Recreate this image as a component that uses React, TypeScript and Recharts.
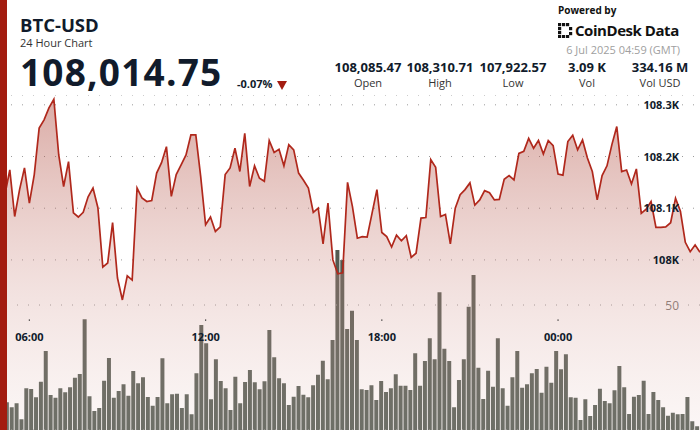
import React from "react";
import { Area, Bar, CartesianGrid, ComposedChart, ReferenceLine, XAxis, YAxis } from "recharts";

// 10-minute candles, 05:00 -> 04:50 (GMT)
const START_MIN = 5 * 60;
const STEP_MIN = 10;

const PRICES = [
  108085, 108126, 108174, 108084, 108136, 108178, 108110, 108165, 108255, 108271,
  108294, 108310.71, 108203, 108142, 108190, 108091, 108083, 108092, 108122, 108139,
  108101, 107986, 107994, 108072, 107965, 107922.57, 107969, 107961, 108139, 108120,
  108113, 108115, 108168, 108188, 108219, 108123, 108165, 108184, 108203, 108242,
  108242, 108161, 108068, 108083, 108055, 108064, 108165, 108178, 108216, 108171,
  108245, 108142, 108182, 108158, 108152, 108231, 108208, 108214, 108182, 108223,
  108213, 108168, 108154, 108139, 108092, 108100, 108031, 108110, 108000, 107973,
  107975, 108150, 108103, 108042, 108045, 108044, 108090, 108136, 108053, 108045,
  108025, 108048, 108037, 108047, 108005, 108013, 108081, 108082, 108194, 108179,
  108084, 108088, 108031, 108100, 108126, 108136, 108149, 108106, 108116, 108134,
  108130, 108116, 108117, 108156, 108163, 108155, 108206, 108210, 108235, 108216,
  108231, 108205, 108231, 108221, 108166, 108164, 108229, 108241, 108213, 108232,
  108197, 108171, 108116, 108163, 108182, 108223, 108258, 108171, 108174, 108147,
  108176, 108090, 108098, 108113, 108063, 108063, 108064, 108072, 108119, 108094,
  108034, 108016, 108029, 108014.75,
];

const VOLUMES = [
  12, 11.1, 9.1, 10.7, 4.3, 16.7, 16.4, 13.1, 19.3, 31.6,
  14, 12.9, 16.7, 15.1, 17.1, 20.9, 22.4, 44.3, 13.5, 7.6,
  8.8, 19.7, 28.8, 12.9, 15.6, 18.3, 13.7, 23.6, 18.7, 21.1,
  13.2, 9.7, 13.2, 28.7, 10.7, 14.3, 14.5, 8.8, 14.3, 6.3,
  22.7, 42, 34.7, 12.3, 28.3, 19.6, 16.7, 8, 21.3, 10.7,
  19.2, 24, 19.1, 16.3, 19.5, 40, 29.1, 20.7, 18.7, 10,
  13.3, 17.6, 14.1, 13.1, 17.9, 22.1, 27.7, 20.3, 36, 72,
  68, 40.4, 47.7, 36, 16.3, 16, 17.9, 12, 19.6, 15.2,
  16.7, 22.3, 17.7, 17.7, 16, 30.7, 17.7, 27.6, 36.7, 28.3,
  55.1, 32.5, 27.6, 9.1, 20, 28.3, 49.3, 62, 24.9, 12.4,
  23.7, 17.3, 36.7, 16.7, 9.7, 21.1, 31.6, 16.9, 18.3, 22.7,
  24.4, 14.9, 25.3, 18.9, 31.6, 24.3, 30.3, 13.1, 12.9, 4,
  12.3, 5.6, 10, 16.5, 11.6, 10.7, 15.9, 25.6, 17.1, 6.4,
  13.3, 14, 19.7, 6.4, 15.2, 12, 9.1, 5.7, 6.9, 6.3,
  6.4, 13.2, 3.5, 1.5,
];

const PRICE_TICKS = [108000, 108100, 108200, 108300];
const PRICE_DOMAIN = [107671, 108319];
const VOLUME_TICKS = [50];
const VOLUME_DOMAIN = [0, 134];
const TIME_LABELS = ["06:00", "12:00", "18:00", "00:00"];

const STATS = [
  { value: "108,085.47", label: "Open", cx: 368 },
  { value: "108,310.71", label: "High", cx: 440 },
  { value: "107,922.57", label: "Low", cx: 513 },
  { value: "3.09 K", label: "Vol", cx: 587 },
  { value: "334.16 M", label: "Vol USD", cx: 660 },
];

const RED = "#a31c10";
const INK = "#111b2b";
const FONT = "'Open Sans', 'Noto Sans', sans-serif";
const W = 700;
const H = 335;
const MARGIN = { top: 0, right: 0, bottom: 0, left: 0 };

const pad = (n: number) => String(n).padStart(2, "0");
const hhmm = (i: number) => {
  const m = (START_MIN + i * STEP_MIN) % 1440;
  return `${pad(Math.floor(m / 60))}:${pad(m % 60)}`;
};

const data = PRICES.map((price, i) => ({ t: hhmm(i), price, vol: VOLUMES[i] }));

const fmtK = (v: number) => `${(v / 1000).toFixed(1).replace(/\.0$/, "")}K`;

function TimeTick(props: any) {
  const { x, payload } = props;
  if (!TIME_LABELS.includes(payload.value)) return <g />;
  return (
    <g>
      <rect x={x - 0.6} y={224.5} width={1.2} height={1.2} fill="#222" />
      <text x={x} y={246} textAnchor="middle" fontSize={11} fontWeight={700} fill={INK} fontFamily={FONT}>
        {payload.value}
      </text>
    </g>
  );
}

function PriceTick(props: any) {
  const { y, payload } = props;
  return (
    <text x={679} y={y + 4} textAnchor="end" fontSize={11} fontWeight={700} fill={INK} fontFamily={FONT}>
      {fmtK(payload.value)}
    </text>
  );
}

function VolTick(props: any) {
  const { y, payload } = props;
  return (
    <text x={679} y={y + 4.5} textAnchor="end" fontSize={12} fill="#7d7570" fontFamily={FONT}>
      {payload.value}
    </text>
  );
}

function Logo() {
  const cells = [
    [0, 0], [4, 0], [8, 0], [0, 4], [0, 8], [0, 12], [4, 12], [8, 12], [11, 4], [11, 9],
  ];
  return (
    <svg width={15} height={15} style={{ position: "absolute", left: 558, top: 23 }}>
      {cells.map(([x, y], i) => (
        <rect key={i} x={x} y={y} width={3.2} height={3.2} fill="#111" />
      ))}
    </svg>
  );
}

export default function App() {
  return (
    <div
      style={{
        position: "absolute",
        left: 0,
        top: 0,
        width: 700,
        height: 430,
        overflow: "hidden",
        background: "#fff",
        fontFamily: FONT,
        color: INK,
      }}
    >
      {/* volume bars underneath */}
      <div style={{ position: "absolute", left: 0, top: 95 }}>
        <ComposedChart width={W} height={H} data={data} margin={MARGIN}>
          <XAxis dataKey="t" hide />
          <YAxis
            yAxisId="v"
            orientation="right"
            mirror
            width={60}
            domain={VOLUME_DOMAIN}
            ticks={VOLUME_TICKS}
            allowDataOverflow
            axisLine={false}
            tickLine={false}
            tick={<VolTick />}
          />
          <ReferenceLine yAxisId="v" y={50} stroke="#9a9a9a" strokeDasharray="1 10" />
          <Bar yAxisId="v" dataKey="vol" fill="#525a51" barSize={4} isAnimationActive={false} />
        </ComposedChart>
      </div>

      {/* price area on top, semi-transparent */}
      <div style={{ position: "absolute", left: 0, top: 95 }}>
        <ComposedChart width={W} height={H} data={data} margin={MARGIN}>
          <defs>
            <linearGradient id="pfill" x1="0" y1="0" x2="0" y2="1">
              <stop offset="0%" stopColor="#a83a2c" stopOpacity={0.7} />
              <stop offset="58%" stopColor="#d0928a" stopOpacity={0.45} />
              <stop offset="100%" stopColor="#ead0cc" stopOpacity={0.3} />
            </linearGradient>
          </defs>
          <CartesianGrid yAxisId="p" vertical={false} stroke="#9a9a9a" strokeDasharray="1 10" />
          <XAxis
            dataKey="t"
            mirror
            height={30}
            axisLine={false}
            tickLine={false}
            interval={0}
            tick={<TimeTick />}
          />
          <YAxis
            yAxisId="p"
            orientation="right"
            mirror
            width={60}
            domain={PRICE_DOMAIN}
            ticks={PRICE_TICKS}
            allowDataOverflow
            axisLine={false}
            tickLine={false}
            tick={<PriceTick />}
          />
          <Area
            yAxisId="p"
            type="linear"
            dataKey="price"
            stroke="#b0281c"
            strokeWidth={1.7}
            fill="url(#pfill)"
            dot={false}
            activeDot={false}
            isAnimationActive={false}
          />
        </ComposedChart>
      </div>

      <div style={{ position: "absolute", left: 0, top: 0, width: 7, height: 430, background: RED }} />

      <div style={{ position: "absolute", left: 20, top: 16, fontSize: 18.5, fontWeight: 700, lineHeight: "18px" }}>
        BTC-USD
      </div>
      <div style={{ position: "absolute", left: 20, top: 37, fontSize: 11, color: "#333", lineHeight: "12px" }}>
        24 Hour Chart
      </div>
      <div
        style={{
          position: "absolute",
          left: 20,
          top: 53,
          fontSize: 37,
          fontWeight: 700,
          lineHeight: "37px",
          letterSpacing: 1.2,
        }}
      >
        108,014.75
      </div>
      <div style={{ position: "absolute", left: 237, top: 77, fontSize: 11, fontWeight: 700, lineHeight: "14px" }}>
        -0.07%
      </div>
      <div
        style={{
          position: "absolute",
          left: 277,
          top: 81,
          width: 0,
          height: 0,
          borderLeft: "5.5px solid transparent",
          borderRight: "5.5px solid transparent",
          borderTop: `9px solid ${RED}`,
        }}
      />

      {STATS.map((s) => (
        <div key={s.label} style={{ position: "absolute", left: s.cx - 45, top: 59, width: 90, textAlign: "center" }}>
          <div style={{ fontSize: 13, fontWeight: 700, lineHeight: "17px" }}>{s.value}</div>
          <div style={{ fontSize: 11, color: "#333", lineHeight: "14px" }}>{s.label}</div>
        </div>
      ))}

      <div style={{ position: "absolute", left: 558, top: 3, fontSize: 10, fontWeight: 700, lineHeight: "14px", color: "#111" }}>
        Powered by
      </div>
      <Logo />
      <div
        style={{
          position: "absolute",
          left: 575,
          top: 20,
          fontSize: 15,
          fontWeight: 700,
          lineHeight: "20px",
          color: "#111",
          letterSpacing: -0.45,
        }}
      >
        CoinDesk Data
      </div>
      <div
        style={{
          position: "absolute",
          right: 20,
          top: 43,
          fontSize: 11,
          color: "#a0a0a0",
          lineHeight: "14px",
          whiteSpace: "nowrap",
        }}
      >
        6 Jul 2025 04:59 (GMT)
      </div>
    </div>
  );
}
